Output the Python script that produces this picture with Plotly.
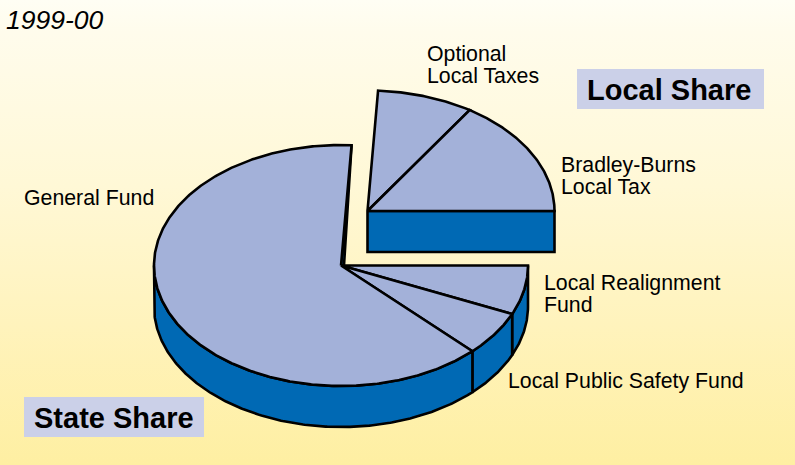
import numpy as np
import plotly.graph_objects as go

# ---- data (percent of total, clockwise from the 3 o'clock position) ----
slice_names = ["Local Realignment Fund", "Local Public Safety Fund", "General Fund",
               "Optional Local Taxes", "Bradley-Burns Local Tax"]
slice_values = [6.6, 6.0, 63.3, 8.3, 15.8]
slice_group = ["State", "State", "State", "Local", "Local"]

period_label = "1999-00"
box_labels = ["Local Share", "State Share"]

# ---- style and layout ----
W, H = 795, 465
TOP_COLOR = "#A3B1D9"
SIDE_COLOR = "#0069B4"
BOX_COLOR = "#CBD0E8"
LW = 2.6
RX, RY, DEPTH = 187, 120.5, 41
SLIVER = 3
CENTERS = {"State": (341, 265.5), "Local": (367.5, 211)}
FONT = "Liberation Sans, Arial, sans-serif"

fig = go.Figure()

# background gradient
fig.add_trace(go.Scatter(
    x=[0, W, W, 0, 0], y=[0, 0, H, H, 0], mode="lines", line=dict(width=0),
    fill="toself", fillcolor="#FFF5C8",
    fillgradient=dict(type="vertical", colorscale=[
        [0.0, "#FEEFA2"], [0.3, "#FFF3BC"], [0.6, "#FFF8D6"], [0.93, "#FFFCEC"], [1.0, "#FFFEF4"]]),
    hoverinfo="skip", showlegend=False))


def arc(group, a0, a1, dy=0.0):
    cx, cy = CENTERS[group]
    n = max(2, int(abs(a1 - a0) * 2) + 2)
    t = np.radians(np.linspace(a0, a1, n))
    return cx + RX * np.cos(t), cy + dy + RY * np.sin(t)


def poly(xs, ys, color, name):
    fig.add_trace(go.Scatter(
        x=np.append(xs, xs[0]), y=np.append(ys, ys[0]), mode="lines", name=name,
        fill="toself", fillcolor=color,
        line=dict(color="black", width=LW),
        hoverinfo="skip", showlegend=False))


# angle spans from the values
ends = np.cumsum(slice_values) / np.sum(slice_values) * 360
starts = np.concatenate([[0], ends[:-1]])

for group in ["State", "Local"]:
    cx, cy = CENTERS[group]
    idx = [i for i, g in enumerate(slice_group) if g == group]
    # rim: only the front half of the ellipse shows
    for i in idx:
        a0, a1 = starts[i], min(ends[i], 180)
        if a0 < 180:
            x0, y0 = arc(group, a0, a1)
            x1, y1 = arc(group, a1, a0, DEPTH)
            poly(np.concatenate([x0, x1]), np.concatenate([y0, y1]), SIDE_COLOR, slice_names[i] + " side")
    # cut faces: a thin sliver on the main pie, a full face on the detached wedge
    if group == "Local":
        xr = cx + RX
        poly(np.array([cx, xr, xr, cx]), np.array([cy, cy, cy + DEPTH, cy + DEPTH]), SIDE_COLOR, "cut face")
    else:
        xe, ye = arc(group, ends[idx[-1]], ends[idx[-1]])
        poly(np.array([cx, cx + SLIVER, xe[0]]), np.array([cy, cy, ye[0]]), SIDE_COLOR, "cut sliver")
    # top faces
    for i in idx:
        xa, ya = arc(group, starts[i], ends[i])
        poly(np.concatenate([[cx], xa]), np.concatenate([[cy], ya]), TOP_COLOR, slice_names[i])

# ---- boxes and text ----
shapes = [
    dict(type="rect", x0=577, x1=764, y0=69, y1=109, fillcolor=BOX_COLOR, line=dict(width=0), layer="above"),
    dict(type="rect", x0=24, x1=204, y0=397, y1=437, fillcolor=BOX_COLOR, line=dict(width=0), layer="above"),
]

labels = [
    ("Optional", 427, 53.5), ("Local Taxes", 427, 75.5),
    ("Bradley-Burns", 561, 165), ("Local Tax", 561, 187),
    ("General Fund", 24, 198),
    ("Local Realignment", 544, 282.5), ("Fund", 544, 304.5),
    ("Local Public Safety Fund", 508, 381),
]
annotations = [
    dict(text=t, x=x, y=y, xref="x", yref="y", xanchor="left", yanchor="middle", showarrow=False,
         font=dict(family=FONT, size=21.3, color="black"), xshift=-2) for t, x, y in labels
]
annotations += [
    dict(text="<i>" + period_label + "</i>", x=6, y=20, xref="x", yref="y", xanchor="left", yanchor="middle",
         showarrow=False, font=dict(family=FONT, size=26.5, color="black"), xshift=-2),
    dict(text="<b>" + box_labels[0] + "</b>", x=669, y=90, xref="x", yref="y", xanchor="center", yanchor="middle",
         showarrow=False, font=dict(family=FONT, size=29, color="black")),
    dict(text="<b>" + box_labels[1] + "</b>", x=113.5, y=418, xref="x", yref="y", xanchor="center", yanchor="middle",
         showarrow=False, font=dict(family=FONT, size=29, color="black")),
]

fig.update_layout(
    width=W, height=H, margin=dict(l=0, r=0, t=0, b=0),
    paper_bgcolor="#FFF5C8", plot_bgcolor="rgba(0,0,0,0)",
    xaxis=dict(range=[0, W], visible=False, fixedrange=True),
    yaxis=dict(range=[H, 0], visible=False, fixedrange=True),
    shapes=shapes, annotations=annotations, showlegend=False,
)
fig.write_html("out.html", config={"displayModeBar": False},
               post_script="document.body.style.margin='0';document.body.style.overflow='hidden';")
